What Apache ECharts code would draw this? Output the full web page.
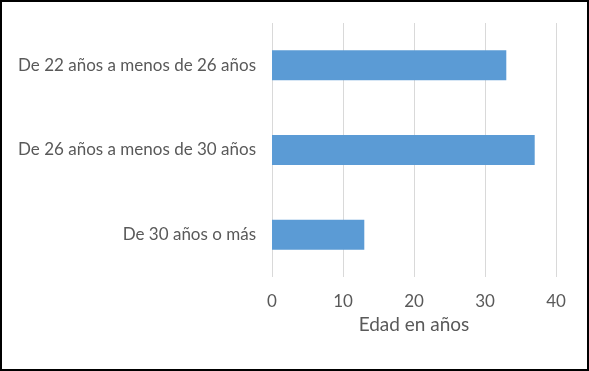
<!DOCTYPE html>
<html><head><meta charset="utf-8">
<script src="https://cdn.jsdelivr.net/npm/echarts@6/dist/echarts.min.js"></script>
<style>
html,body{margin:0;padding:0;background:#fff;}
#c{width:589px;height:371px;box-sizing:border-box;border:2px solid #000;}
</style></head>
<body><div id="c"></div>
<script>
const categories = ["De 22 años a menos de 26 años", "De 26 años a menos de 30 años", "De 30 años o más"];
const values = [33, 37, 13];
const xTicks = [0, 10, 20, 30, 40];
const xName = "Edad en años";

const chart = echarts.init(document.getElementById('c'), null, {renderer:'canvas'});
const font = 'Lato, "Open Sans", sans-serif';
chart.setOption({
  animation:false,
  grid:{left:270, right:31, top:21, bottom:92, containLabel:false},
  xAxis:{type:'value', min:xTicks[0], max:xTicks[xTicks.length-1], interval:10,
    name:xName, nameLocation:'middle', nameGap:38,
    nameTextStyle:{color:'#595959', fontSize:19, fontFamily:font},
    axisLine:{show:false}, axisTick:{show:false},
    axisLabel:{color:'#595959', fontSize:17, fontFamily:font, margin:16},
    splitLine:{lineStyle:{color:'#d9d9d9', width:1}}},
  yAxis:{type:'category', data:categories, inverse:true,
    axisLine:{show:false}, axisTick:{show:false},
    axisLabel:{color:'#595959', fontSize:17, fontFamily:font, margin:16}},
  series:[{type:'bar', data:values, barWidth:30, itemStyle:{color:'#5b9bd5'}}]
});
</script></body></html>
